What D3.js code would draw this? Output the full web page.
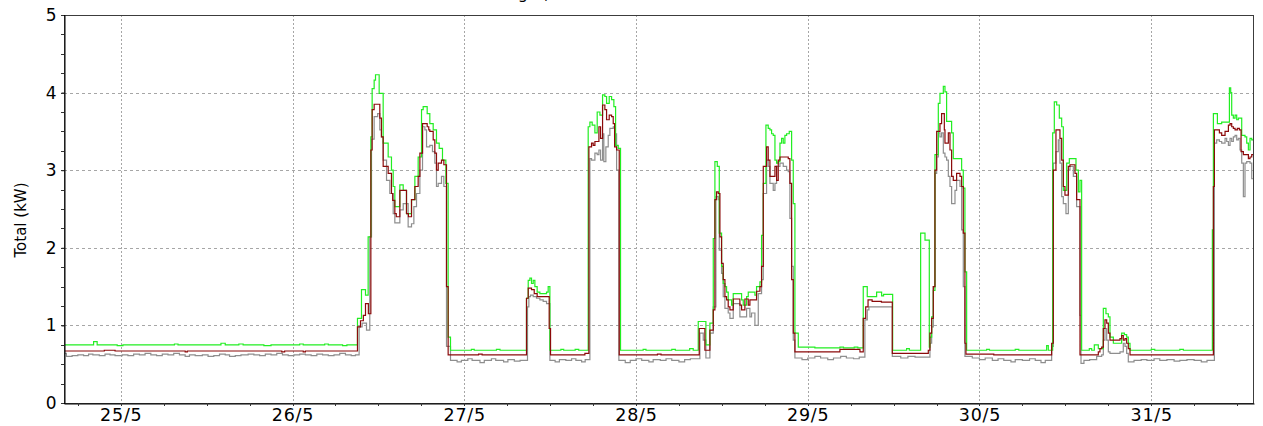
<!DOCTYPE html>
<html>
<head>
<meta charset="utf-8">
<script src="https://cdn.jsdelivr.net/npm/d3@7"></script>
<style>
  html, body { margin: 0; padding: 0; background: #fff; }
  svg { display: block; }
  text { font-family: "DejaVu Sans", Verdana, sans-serif; }
</style>
</head>
<body>
<script>
// Time window shown on the x axis and the day labels under it
const viewStart = "2015-05-24T16:04";
const viewEnd   = "2015-05-31T14:22";
const dayTicks  = ["2015-05-25", "2015-05-26", "2015-05-27", "2015-05-28", "2015-05-29", "2015-05-30", "2015-05-31"];
const dayLabels = ["25/5", "26/5", "27/5", "28/5", "29/5", "30/5", "31/5"];
const kwTicks   = [0, 1, 2, 3, 4, 5];
const chartTitle = "Building A, total demand";
const yTitle = "Total (kW)";

// Step readings: [hours after 25/5 00:00, kW]; each value holds until the next reading
const maxKw = [
  [-8,0.75],[-3.8,0.79],[-3.3,0.75],[-0.5,0.74],[0.3,0.75],[7.5,0.76],[8.0,0.75],[14,0.77],[14.6,0.75],
  [16.5,0.76],[17.1,0.75],[20,0.74],[21,0.75],[25,0.76],[25.5,0.75],[28.5,0.76],[29,0.75],[31,0.74],[31.6,0.75],
  [33.08,1.09],[33.64,1.46],[34.20,1.39],[34.57,2.14],[34.95,3.43],[35.13,4.05],[35.41,4.16],[35.60,4.23],
  [36.11,3.99],[36.67,3.35],[37.37,3.17],[37.83,3.00],[38.07,2.79],[38.3,2.53],[39.0,2.81],[39.47,2.74],
  [39.93,2.44],[40.63,2.62],[41.10,2.92],[41.56,3.17],[42.03,3.78],[42.26,3.82],[42.82,3.73],[43.19,3.60],
  [43.66,3.52],[44.12,3.35],[44.50,3.28],[44.96,3.13],[45.43,2.83],[45.75,0.85],[46.08,0.68],
  [49,0.69],[49.4,0.68],[52.5,0.69],[53,0.68],
  [56.70,1.35],[56.94,1.58],[57.17,1.61],[57.40,1.54],[57.64,1.58],[57.87,1.50],[58.19,1.43],[58.57,1.41],
  [59.50,1.43],[59.73,1.50],[59.97,0.68],[61.5,0.69],[61.9,0.68],[63.5,0.69],[64.0,0.68],
  [65.32,3.56],[65.56,3.62],[65.88,3.58],[66.26,3.48],[66.58,3.75],[66.96,3.71],[67.33,3.97],[67.65,3.95],
  [67.89,3.86],[68.26,3.95],[68.59,3.91],[68.91,3.82],[69.15,3.32],[69.52,3.28],[69.84,0.68],
  [73,0.69],[73.4,0.68],[77,0.69],[77.5,0.68],[79.5,0.70],[80.0,0.68],
  [80.70,1.05],[81.77,0.75],[82.33,1.03],[82.80,2.12],[83.03,3.11],[83.36,3.05],[83.64,2.19],[83.96,1.76],
  [84.19,1.54],[84.43,1.50],[84.66,1.43],[84.89,1.33],[85.36,1.26],[85.59,1.41],[86.76,1.33],[86.99,1.26],
  [87.46,1.37],[87.69,1.43],[88.62,1.39],[88.85,1.50],[89.32,1.56],[89.55,2.16],[89.79,2.83],[90.16,3.58],
  [90.48,3.54],[90.72,3.52],[90.95,3.47],[91.18,3.45],[91.42,3.13],[91.65,3.09],[91.88,3.11],[92.12,3.35],
  [92.35,3.41],[92.58,3.35],[92.81,3.45],[93.05,3.47],[93.42,3.50],[93.75,3.13],[93.98,2.57],[94.21,0.90],
  [94.68,0.72],[97,0.71],[100.5,0.72],[101,0.71],[102.5,0.72],[103,0.71],
  [103.76,1.50],[104.32,1.37],[105.63,1.43],[106.33,1.38],[106.6,1.40],[107.87,0.68],
  [109.82,0.70],[110.2,0.68],
  [111.78,2.19],[112.39,2.10],[112.99,0.72],[113.08,0.85],[113.32,1.11],[113.55,1.45],[113.78,3.20],
  [114.25,3.86],[114.48,3.99],[114.95,4.08],[115.18,4.01],[115.41,3.63],[116.11,3.48],[116.34,3.15],
  [117.51,3.00],[117.74,2.77],[117.97,1.69],[118.21,0.68],
  [121,0.69],[121.4,0.68],[125,0.69],[125.5,0.68],[129.39,0.74],[129.62,0.68],
  [130.23,3.48],[130.46,3.88],[130.79,3.84],[131.16,3.67],[131.49,3.56],[131.72,2.74],[132.19,3.09],
  [132.56,3.15],[133.49,3.00],[133.82,2.72],[134.05,2.87],[134.28,0.68],[135.35,0.70],[135.68,0.68],
  [136.05,0.75],[136.61,0.70],[137.31,1.22],[137.68,1.15],[138.01,1.11],[138.24,0.85],[138.71,0.77],
  [139.87,0.90],[140.25,0.88],[140.57,0.85],[140.80,0.77],[141.04,0.68],
  [144,0.69],[144.5,0.68],[148,0.69],[148.5,0.68],
  [152.55,2.23],[152.69,3.73],[153.25,3.60],[153.85,3.62],[154.93,4.06],[155.11,4.00],[155.25,3.71],
  [155.48,3.67],[155.72,3.71],[155.95,3.65],[156.18,3.67],[156.65,3.45],[157.11,3.43],[157.35,3.35],
  [157.58,3.26],[157.81,3.41],[158.05,3.39]
];

const avgKw = [
  [-8,0.67],[-2.3,0.68],[-0.8,0.67],[9.0,0.66],[9.3,0.67],[22.5,0.66],[22.9,0.67],[25.5,0.66],[25.8,0.67],
  [33.08,0.98],[33.5,1.06],[33.9,1.13],[34.2,1.28],[34.6,1.15],[34.95,3.26],[35.13,3.78],[35.41,3.85],
  [36.20,3.67],[36.43,3.43],[36.67,3.05],[37.37,2.96],[37.83,2.70],[38.0,2.61],[38.3,2.44],[38.5,2.40],
  [39.0,2.74],[39.93,2.44],[40.2,2.40],[40.63,2.62],[41.10,2.79],[41.56,2.92],[41.80,3.22],[42.17,3.60],
  [42.82,3.56],[43.04,3.52],[43.19,3.50],[43.66,3.39],[43.89,3.22],[44.12,3.00],[44.36,3.09],[44.82,3.13],
  [45.15,3.07],[45.52,1.50],[45.75,0.62],[50,0.63],[50.5,0.62],
  [56.70,1.35],[56.94,1.48],[57.40,1.46],[57.78,1.41],[58.19,1.37],[59.87,0.96],[60.06,0.62],[64.86,0.64],
  [65.42,3.30],[65.79,3.35],[66.02,3.32],[66.26,3.37],[66.82,3.56],[67.05,3.41],[67.33,3.84],[67.65,3.78],
  [67.89,3.65],[68.26,3.71],[68.59,3.69],[68.82,3.60],[69.01,3.30],[69.29,3.26],[69.66,0.62],
  [75,0.63],[75.5,0.62],
  [80.84,0.96],[81.63,0.68],[82.33,0.94],[82.80,1.20],[83.03,2.62],[83.26,2.72],[83.50,2.70],[83.73,2.14],
  [83.96,1.80],[84.19,1.59],[84.43,1.37],[84.66,1.33],[84.89,1.24],[85.13,1.20],[85.59,1.34],[86.52,1.26],
  [86.76,1.20],[87.22,1.34],[87.69,1.26],[87.92,1.33],[88.85,1.44],[89.32,1.50],[89.55,1.76],[89.79,3.05],
  [90.25,3.30],[90.48,3.13],[90.72,2.92],[91.42,3.05],[91.65,2.87],[91.88,3.13],[92.12,3.17],[93.28,3.15],
  [93.51,2.83],[93.75,1.59],[93.98,0.90],[94.21,0.66],[100.5,0.69],[103.3,0.66],
  [103.76,1.09],[104.10,1.24],[104.43,1.33],[105.0,1.31],[106.3,1.30],[107.82,0.64],
  [112.85,0.68],[113.08,0.90],[113.32,1.09],[113.55,1.50],[113.78,3.00],[114.02,3.50],[114.48,3.60],
  [114.71,3.73],[115.09,3.52],[115.18,3.35],[115.65,3.48],[115.88,3.26],[116.11,2.92],[116.34,2.87],
  [116.81,2.96],[117.28,2.92],[117.51,2.79],[117.74,2.19],[117.97,0.77],[118.11,0.63],[122,0.62],
  [130.09,0.77],[130.32,3.00],[130.69,3.52],[131.25,3.41],[131.49,3.13],[131.72,2.79],[131.95,2.68],
  [132.42,3.05],[132.65,3.07],[133.35,2.96],[133.58,2.62],[134.05,0.62],[136.61,0.66],[136.84,0.70],
  [137.08,0.72],[137.31,0.96],[137.54,1.07],[137.78,1.03],[138.01,0.90],[138.24,0.81],[139.64,0.83],
  [139.87,0.87],[140.10,0.81],[140.34,0.83],[140.57,0.77],[140.80,0.70],[141.04,0.62],
  [152.69,2.79],[152.83,3.52],[153.53,3.48],[153.85,3.45],[154.32,3.50],[154.79,3.58],[155.02,3.60],
  [155.25,3.56],[155.48,3.54],[155.72,3.52],[156.04,3.54],[156.32,3.52],[156.56,3.24],[156.88,3.20],
  [157.58,3.15],[157.81,3.17],[158.05,3.20]
];

const minKw = [
  [-8,0.64],[-7.6,0.60],[-6.8,0.61],[-6.0,0.62],[-5.2,0.61],[-4.5,0.63],[-3.9,0.62],[-3.0,0.61],[-2.2,0.63],
  [-1.5,0.62],[-0.8,0.61],[0.2,0.62],[1.0,0.61],[1.8,0.63],[2.6,0.62],[3.4,0.64],[4.2,0.62],[5.0,0.61],
  [5.8,0.63],[6.6,0.62],[7.4,0.64],[8.2,0.62],[9.0,0.60],[9.6,0.62],[10.4,0.61],[11.4,0.62],[12.2,0.60],
  [13.0,0.61],[13.8,0.63],[14.6,0.62],[15.2,0.60],[16.0,0.61],[16.8,0.62],[17.8,0.63],[18.6,0.62],
  [19.4,0.61],[20.2,0.63],[21.0,0.62],[21.8,0.64],[22.6,0.62],[23.4,0.61],[24.2,0.62],[25.0,0.63],
  [25.8,0.62],[26.6,0.61],[27.4,0.63],[28.2,0.62],[29.0,0.61],[29.8,0.62],[30.6,0.64],[31.4,0.62],
  [32.2,0.61],[32.8,0.62],
  [33.31,0.98],[33.73,1.03],[34.34,0.94],[34.80,2.14],[35.04,3.40],[35.41,3.69],[35.90,3.73],[36.20,3.52],
  [36.43,3.43],[36.67,3.13],[37.14,2.87],[37.60,2.70],[38.07,2.44],[38.30,2.32],[39.00,2.49],[39.47,2.57],
  [40.16,2.27],[40.63,2.31],[40.96,2.53],[41.33,2.70],[41.80,3.00],[42.17,3.56],[42.50,3.52],[42.73,3.30],
  [43.19,3.32],[43.56,3.24],[43.89,3.09],[44.12,2.79],[44.36,2.83],[44.82,2.92],[45.15,2.79],[45.52,0.73],
  [46.08,0.55],[47,0.53],[47.6,0.55],[48.5,0.57],[49.1,0.55],[50.2,0.52],[50.8,0.55],[51.8,0.57],[52.4,0.55],
  [53.5,0.53],[54.1,0.56],[55,0.54],[55.8,0.55],
  [56.84,1.24],[57.03,1.37],[57.26,1.39],[57.64,1.37],[58.10,1.35],[58.57,1.33],[59.03,1.31],[59.50,1.28],
  [59.97,0.55],[60.7,0.53],[61.3,0.56],[62.2,0.55],[63.0,0.57],[63.6,0.55],[64.4,0.53],[64.9,0.56],
  [65.56,3.15],[65.79,3.13],[66.26,3.22],[66.58,3.20],[66.82,3.26],[67.05,3.13],[67.33,3.47],[67.51,3.11],
  [67.79,3.30],[68.12,3.45],[68.35,3.54],[68.82,3.56],[69.05,3.47],[69.29,3.00],[69.61,0.55],
  [70.5,0.52],[71.2,0.55],[72,0.57],[72.8,0.55],[73.8,0.53],[74.4,0.56],[75.4,0.55],[76.2,0.57],[77,0.55],
  [78,0.53],[78.8,0.56],[79.6,0.57],
  [80.93,0.90],[81.40,0.81],[81.77,0.58],[82.33,0.90],[82.80,1.24],[83.17,2.66],[83.50,2.62],[83.64,1.97],
  [83.96,1.67],[84.19,1.37],[84.43,1.22],[84.89,1.16],[85.13,1.09],[85.59,1.28],[86.52,1.11],[87.46,1.22],
  [87.92,1.11],[88.15,1.16],[88.62,1.00],[89.09,1.41],[89.55,1.59],[89.79,2.70],[90.25,3.13],[90.48,3.05],
  [90.72,2.83],[91.18,2.74],[91.42,2.83],[91.65,3.05],[92.12,3.09],[92.58,3.05],[93.05,3.00],[93.28,2.98],
  [93.51,2.38],[93.75,1.76],[93.98,0.81],[94.21,0.58],
  [95.2,0.56],[96,0.58],[97,0.60],[97.8,0.58],[98.8,0.56],[99.6,0.58],[100.6,0.60],[101.4,0.58],[102.4,0.57],
  [103.2,0.59],[103.99,1.07],[104.32,1.20],[104.55,1.24],[107.82,0.60],[109,0.58],[110,0.60],[111,0.59],
  [113.08,0.77],[113.32,0.98],[113.55,1.50],[113.78,2.96],[114.02,3.17],[114.25,3.48],[114.48,3.43],
  [114.71,3.48],[114.95,3.22],[115.18,3.17],[115.41,3.13],[115.65,2.92],[115.88,2.79],[116.11,2.57],
  [116.58,2.74],[116.81,2.87],[117.28,2.79],[117.51,2.23],[117.74,1.50],[117.97,0.60],
  [119,0.58],[120,0.56],[120.8,0.58],[121.8,0.55],[122.6,0.57],[123.4,0.55],[124.4,0.53],[125.0,0.56],
  [126,0.55],[127,0.57],[127.8,0.55],[128.6,0.52],[129.2,0.55],
  [130.09,0.73],[130.32,3.09],[130.69,3.24],[131.02,3.39],[131.25,3.09],[131.49,2.66],[131.72,2.57],
  [132.09,2.44],[132.42,3.00],[132.65,3.05],[133.12,2.92],[133.58,2.53],[134.05,1.13],[134.19,0.51],
  [134.6,0.55],[135.4,0.56],[136.38,0.60],[137.08,0.62],[137.31,0.81],[137.54,0.96],[137.78,0.81],
  [138.01,0.66],[138.24,0.64],[139.64,0.66],[140.10,0.77],[140.34,0.73],[140.57,0.64],[140.80,0.53],
  [141.6,0.55],[142.6,0.56],[143.4,0.55],[144.4,0.57],[145.2,0.55],[146.2,0.56],[147.2,0.54],[148,0.55],
  [149,0.56],[150,0.55],[151,0.53],[151.8,0.55],
  [152.83,3.35],[153.15,3.39],[153.53,3.37],[153.85,3.35],[154.32,3.41],[154.55,3.37],[154.79,3.32],
  [155.02,3.41],[155.25,3.37],[155.48,3.43],[155.72,3.45],[155.95,3.39],[156.18,3.41],[156.41,3.26],
  [156.65,3.09],[156.88,2.66],[157.11,3.09],[157.35,3.11],[157.81,3.09],[158.05,2.89]
];

const seriesStyle = [
  { data: minKw, color: "#8e8e8e" },
  { data: maxKw, color: "#22ee22" },
  { data: avgKw, color: "#8b0a0a" }
];

const W = 1263, H = 426;
const plot = { left: 64, right: 1254, top: 15, bottom: 403 };

const origin = new Date("2015-05-25T00:00");
const toDate = h => new Date(origin.getTime() + h * 3600e3);

const x = d3.scaleTime()
  .domain([new Date(viewStart), new Date(viewEnd)])
  .range([plot.left, plot.right]);
const y = d3.scaleLinear().domain([0, 5]).range([plot.bottom, plot.top]);

const svg = d3.select("body").append("svg").attr("width", W).attr("height", H);

// title strip that runs off the top edge of the page
svg.append("text")
  .attr("x", 463).attr("y", -1.5)
  .attr("font-size", 16)
  .attr("fill", "#000")
  .text(chartTitle);

svg.append("defs").append("clipPath").attr("id", "plotClip")
  .append("rect")
  .attr("x", plot.left).attr("y", plot.top)
  .attr("width", plot.right - plot.left).attr("height", plot.bottom - plot.top);

// grid
const grid = svg.append("g").attr("shape-rendering", "crispEdges");
grid.selectAll("line.h").data(kwTicks.filter(v => v > 0 && v < 5)).join("line")
  .attr("x1", plot.left).attr("x2", plot.right)
  .attr("y1", d => Math.round(y(d)) + 0.5).attr("y2", d => Math.round(y(d)) + 0.5)
  .attr("stroke", "#a6a6a6").attr("stroke-dasharray", "3,3");
grid.selectAll("line.v").data(dayTicks).join("line")
  .attr("x1", d => Math.round(x(new Date(d + "T00:00"))) + 0.5)
  .attr("x2", d => Math.round(x(new Date(d + "T00:00"))) + 0.5)
  .attr("y1", plot.top).attr("y2", plot.bottom + 4)
  .attr("stroke", "#a6a6a6").attr("stroke-dasharray", "2,2");

// series
const line = d3.line()
  .x(d => x(toDate(d[0])))
  .y(d => y(d[1]))
  .curve(d3.curveStepAfter);
const endHour = (new Date(viewEnd) - origin) / 3600e3;
const lines = svg.append("g").attr("clip-path", "url(#plotClip)");
seriesStyle.forEach(s => {
  const pts = s.data.concat([[endHour, s.data[s.data.length - 1][1]]]);
  lines.append("path")
    .attr("d", line(pts))
    .attr("fill", "none")
    .attr("stroke", s.color)
    .attr("stroke-width", 1.2);
});

// frame
svg.append("rect")
  .attr("x", plot.left + 0.5).attr("y", plot.top + 0.5)
  .attr("width", plot.right - plot.left - 1).attr("height", plot.bottom - plot.top)
  .attr("fill", "none").attr("stroke", "#3c3c3c").attr("shape-rendering", "crispEdges");

// y axis
const yAxis = d3.axisLeft(y).tickValues(kwTicks).tickSize(3).tickPadding(5).tickFormat(d3.format("d"));
const gy = svg.append("g").attr("transform", `translate(${plot.left + 0.5},0)`).call(yAxis);
gy.select(".domain").attr("stroke", "#000");
gy.selectAll("text").attr("font-size", 17).attr("font-family", "DejaVu Sans").attr("fill", "#000");
const yMinor = d3.range(0, 5.001, 0.25);
svg.append("g").attr("shape-rendering", "crispEdges").selectAll("line").data(yMinor).join("line")
  .attr("x1", plot.left - 3).attr("x2", plot.left)
  .attr("y1", d => Math.round(y(d)) + 0.5).attr("y2", d => Math.round(y(d)) + 0.5)
  .attr("stroke", "#333");

// x axis
const xAxis = d3.axisBottom(x)
  .tickValues(dayTicks.map(d => new Date(d + "T00:00")))
  .tickSize(0).tickPadding(5)
  .tickFormat((d, i) => dayLabels[i]);
const gx = svg.append("g").attr("transform", `translate(0,${plot.bottom + 0.5})`).call(xAxis);
gx.select(".domain").attr("stroke", "#000");
gx.selectAll("text").attr("font-size", 17.5).attr("letter-spacing", 0.8)
  .attr("font-family", "DejaVu Sans").attr("fill", "#000");
const xMinor = d3.timeHour.every(6).range(new Date(viewStart), new Date(viewEnd));
svg.append("g").attr("shape-rendering", "crispEdges").selectAll("line").data(xMinor).join("line")
  .attr("x1", d => Math.round(x(d)) + 0.5).attr("x2", d => Math.round(x(d)) + 0.5)
  .attr("y1", plot.bottom).attr("y2", plot.bottom + 3)
  .attr("stroke", "#333");

// y axis title
svg.append("text")
  .attr("transform", `translate(26,220) rotate(-90)`)
  .attr("text-anchor", "middle")
  .attr("font-size", 15)
  .attr("font-family", "'DejaVu Sans Condensed', 'DejaVu Sans', sans-serif")
  .attr("fill", "#000")
  .text(yTitle);
</script>
</body>
</html>
